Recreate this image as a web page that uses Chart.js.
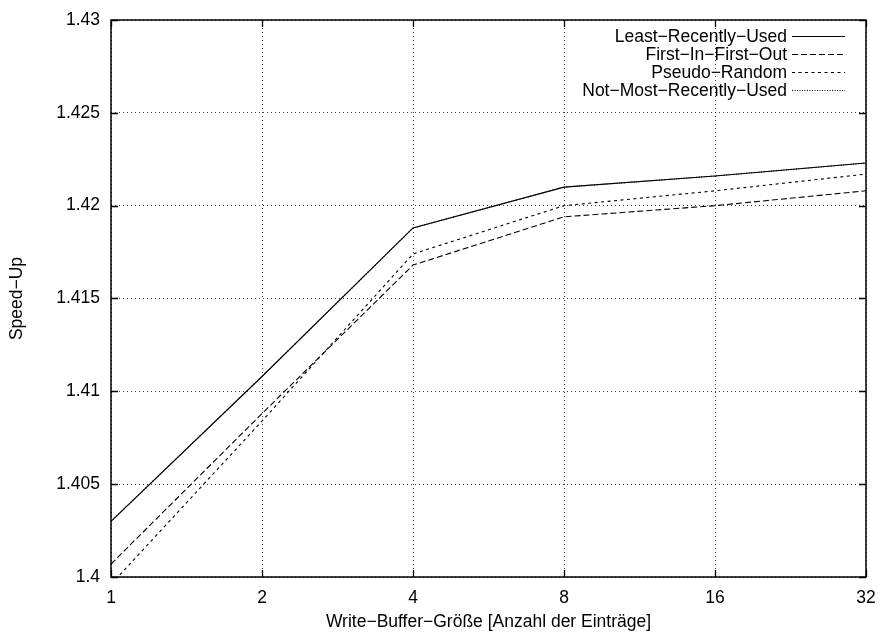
<!DOCTYPE html>
<html>
<head>
<meta charset="utf-8">
<script src="https://cdn.jsdelivr.net/npm/chart.js@4/dist/chart.umd.min.js"></script>
<style>
html,body{margin:0;padding:0;background:#fff;}
#wrap{width:880px;height:632px;position:relative;}
</style>
</head>
<body>
<div id="wrap"><canvas id="c" width="880" height="632"></canvas></div>
<script>
const categories = ['1', '2', '4', '8', '16', '32'];
const lruValues  = [1.4030, 1.4108, 1.4188, 1.4210, 1.4216, 1.4223];
const fifoValues = [1.4007, 1.4088, 1.4168, 1.4194, 1.4200, 1.4208];
const prValues   = [1.3996, 1.4084, 1.4174, 1.4200, 1.4208, 1.4217];
const nmruValues = [1.4030, 1.4108, 1.4188, 1.4210, 1.4216, 1.4223];
const seriesNames = ['Least\u2212Recently\u2212Used', 'First\u2212In\u2212First\u2212Out', 'Pseudo\u2212Random', 'Not\u2212Most\u2212Recently\u2212Used'];
const yTicks = [1.4, 1.405, 1.41, 1.415, 1.42, 1.425, 1.43];
const xTitle = 'Write\u2212Buffer\u2212Gr\u00f6\u00dfe [Anzahl der Eintr\u00e4ge]';
const yTitle = 'Speed\u2212Up';

const FONT = 'Liberation Sans, Arial, Helvetica, sans-serif';
const FS = 17.5;

const frameAndLegend = {
  id: 'frameAndLegend',
  afterDatasetsDraw(chart) {
    const ctx = chart.ctx;
    const a = chart.chartArea;
    const xs = chart.scales.x, ys = chart.scales.y;
    ctx.save();
    ctx.strokeStyle = '#000';
    ctx.lineWidth = 1.3;
    ctx.setLineDash([]);
    const tl = 7;
    ctx.beginPath();
    ys.ticks.forEach((t, i) => {
      const y = Math.round(ys.getPixelForTick(i)) + 0.5;
      ctx.moveTo(a.left, y); ctx.lineTo(a.left + tl, y);
      ctx.moveTo(a.right, y); ctx.lineTo(a.right - tl, y);
    });
    xs.ticks.forEach((t, i) => {
      const x = Math.round(xs.getPixelForTick(i)) + 0.5;
      ctx.moveTo(x, a.bottom); ctx.lineTo(x, a.bottom - tl);
      ctx.moveTo(x, a.top); ctx.lineTo(x, a.top + tl);
    });
    ctx.stroke();
    ctx.lineWidth = 1.5;
    ctx.strokeRect(a.left, a.top, a.right - a.left, a.bottom - a.top);
    ctx.font = FS + 'px ' + FONT;
    ctx.textAlign = 'right';
    ctx.textBaseline = 'middle';
    ctx.fillStyle = '#000';
    const textRight = 787, sx0 = 792, sx1 = 845, y0 = 36, dy = 18;
    chart.data.datasets.forEach((ds, i) => {
      const y = y0 + i * dy;
      ctx.fillText(ds.label, textRight, y + 1);
      ctx.beginPath();
      ctx.lineWidth = ds.borderWidth;
      ctx.strokeStyle = ds.borderColor;
      ctx.setLineDash(ds.borderDash || []);
      ctx.moveTo(sx0, y + 0.5); ctx.lineTo(sx1, y + 0.5);
      ctx.stroke();
    });
    ctx.restore();
  }
};

const mk = (label, data, dash) => ({
  label, data,
  borderColor: '#000',
  borderWidth: 1.1,
  borderDash: dash,
  pointRadius: 0,
  fill: false,
  tension: 0
});

new Chart(document.getElementById('c'), {
  type: 'line',
  data: {
    labels: categories,
    datasets: [
      mk(seriesNames[0], lruValues, []),
      mk(seriesNames[1], fifoValues, [6, 3]),
      mk(seriesNames[2], prValues, [3, 3.5]),
      mk(seriesNames[3], nmruValues, [1, 1.5])
    ]
  },
  options: {
    responsive: false,
    animation: false,
    devicePixelRatio: 1,
    layout: { padding: { top: 20, right: 14, bottom: 0, left: 0 } },
    plugins: { legend: { display: false }, tooltip: { enabled: false } },
    scales: {
      x: {
        type: 'category',
        offset: false,
        grid: { color: 'rgba(0,0,0,0.75)', lineWidth: 1, drawTicks: false, tickLength: 0 },
        border: { display: false, dash: [1, 3] },
        ticks: { color: '#000', font: { family: FONT, size: FS }, padding: 11, maxRotation: 0, autoSkip: false },
        title: { display: true, text: xTitle, color: '#000', font: { family: FONT, size: FS, lineHeight: 1 }, padding: { top: 0, bottom: 1 } },
        afterFit(s) { s.height = 55; s.paddingLeft = 0; s.paddingRight = 0; }
      },
      y: {
        type: 'linear',
        min: 1.4, max: 1.43,
        grid: { color: 'rgba(0,0,0,0.75)', lineWidth: 1, drawTicks: false, tickLength: 0 },
        border: { display: false, dash: [1, 3] },
        afterBuildTicks(s) { s.ticks = yTicks.map(v => ({ value: v })); },
        ticks: {
          color: '#000', font: { family: FONT, size: FS }, padding: 11,
          callback: v => String(Number(v.toFixed(3)))
        },
        title: { display: true, text: yTitle, color: '#000', font: { family: FONT, size: FS, lineHeight: 1 }, padding: { top: 8, bottom: 0 } },
        afterFit(s) { s.width = 111; s.paddingTop = 0; s.paddingBottom = 0; }
      }
    }
  },
  plugins: [frameAndLegend]
});
</script>
</body>
</html>
